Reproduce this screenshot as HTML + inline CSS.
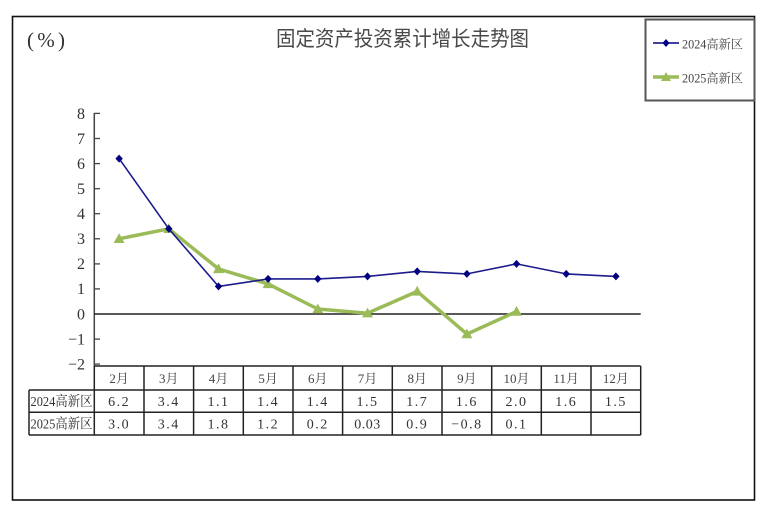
<!DOCTYPE html>
<html><head><meta charset="utf-8"><style>
html,body{margin:0;padding:0;background:#fff;}
svg{display:block;}
</style></head><body>
<svg width="772" height="512" viewBox="0 0 772 512" xmlns="http://www.w3.org/2000/svg">
<rect x="0" y="0" width="772" height="512" fill="#fff"/>
<!-- outer frame -->
<rect x="12.5" y="16.5" width="742" height="483.5" fill="none" stroke="#111" stroke-width="1.6"/>
<!-- (%) -->
<text x="27" y="47" font-family="Liberation Serif, Noto Serif CJK SC, serif" font-size="21" fill="#333" textLength="38" lengthAdjust="spacing">(%)</text>
<!-- title -->
<text x="276" y="46" font-family="Liberation Sans, Noto Sans CJK SC, sans-serif" font-size="21" fill="#4a4a4a" textLength="253" lengthAdjust="spacingAndGlyphs">固定资产投资累计增长走势图</text>
<!-- legend -->
<rect x="645.5" y="19.5" width="109" height="81" fill="#fff" stroke="#555" stroke-width="2"/>
<line x1="653" y1="43" x2="679" y2="43" stroke="#000080" stroke-width="1.6"/>
<polygon points="666,39 669.5,43 666,47 662.5,43" fill="#000080"/>
<text x="682" y="48.5" font-family="Liberation Serif, Noto Serif CJK SC, serif" font-size="12.5" fill="#444" textLength="61" lengthAdjust="spacingAndGlyphs">2024高新区</text>
<line x1="653" y1="77" x2="679" y2="77" stroke="#9bbb59" stroke-width="3.5"/>
<polygon points="666,72 671,81 661,81" fill="#9bbb59"/>
<text x="682" y="82.5" font-family="Liberation Serif, Noto Serif CJK SC, serif" font-size="12.5" fill="#444" textLength="61" lengthAdjust="spacingAndGlyphs">2025高新区</text>

<!-- y axis -->
<line x1="94.3" y1="113" x2="94.3" y2="366" stroke="#444" stroke-width="1.5"/>
<g stroke="#444" stroke-width="1.3">
<line x1="94" y1="113.4" x2="100" y2="113.4"/>
<line x1="94" y1="138.5" x2="100" y2="138.5"/>
<line x1="94" y1="163.6" x2="100" y2="163.6"/>
<line x1="94" y1="188.7" x2="100" y2="188.7"/>
<line x1="94" y1="213.7" x2="100" y2="213.7"/>
<line x1="94" y1="238.8" x2="100" y2="238.8"/>
<line x1="94" y1="263.9" x2="100" y2="263.9"/>
<line x1="94" y1="288.9" x2="100" y2="288.9"/>
<line x1="94" y1="339.1" x2="100" y2="339.1"/>
<line x1="94" y1="364.1" x2="100" y2="364.1"/>
</g>
<g font-family="Liberation Serif, serif" font-size="16" fill="#333" text-anchor="end">
<text x="85" y="119">8</text>
<text x="85" y="144">7</text>
<text x="85" y="169">6</text>
<text x="85" y="194">5</text>
<text x="85" y="219">4</text>
<text x="85" y="244">3</text>
<text x="85" y="269">2</text>
<text x="85" y="294">1</text>
<text x="85" y="319.5">0</text>
<text x="85" y="344.5">−1</text>
<text x="85" y="369.5">−2</text>
</g>
<!-- zero line -->
<line x1="94" y1="314" x2="640.7" y2="314" stroke="#222" stroke-width="1.5"/>

<!-- 2025 series -->
<polyline fill="none" stroke="#9bbb59" stroke-width="3.5" stroke-linejoin="round" points="119.1,238.8 168.8,228.8 218.5,268.9 268.1,283.9 317.8,309.0 367.5,313.2 417.2,291.4 466.9,334.1 516.5,311.5"/>
<g fill="#9bbb59">
<polygon points="119.1,233.3 124.6,243 113.6,243"/>
<polygon points="168.8,223.3 174.3,233 163.3,233"/>
<polygon points="218.5,263.4 224,273.1 213,273.1"/>
<polygon points="268.1,278.4 273.6,288.1 262.6,288.1"/>
<polygon points="317.8,303.5 323.3,313.2 312.3,313.2"/>
<polygon points="367.5,307.7 373,317.4 362,317.4"/>
<polygon points="417.2,285.9 422.7,295.6 411.7,295.6"/>
<polygon points="466.9,328.6 472.4,338.3 461.4,338.3"/>
<polygon points="516.5,306 522,315.7 511,315.7"/>
</g>

<!-- 2024 series -->
<polyline fill="none" stroke="#1c1c8c" stroke-width="1.6" stroke-linejoin="round" points="119.1,158.6 168.8,228.8 218.5,286.4 268.1,278.9 317.8,278.9 367.5,276.4 417.2,271.4 466.9,273.9 516.5,263.9 566.2,273.9 615.9,276.4"/>
<g fill="#000080">
<polygon points="119.1,154.6 122.8,158.6 119.1,162.6 115.4,158.6"/>
<polygon points="168.8,224.8 172.5,228.8 168.8,232.8 165.1,228.8"/>
<polygon points="218.5,282.4 222.2,286.4 218.5,290.4 214.8,286.4"/>
<polygon points="268.1,274.9 271.8,278.9 268.1,282.9 264.4,278.9"/>
<polygon points="317.8,274.9 321.5,278.9 317.8,282.9 314.1,278.9"/>
<polygon points="367.5,272.4 371.2,276.4 367.5,280.4 363.8,276.4"/>
<polygon points="417.2,267.4 420.9,271.4 417.2,275.4 413.5,271.4"/>
<polygon points="466.9,269.9 470.6,273.9 466.9,277.9 463.2,273.9"/>
<polygon points="516.5,259.9 520.2,263.9 516.5,267.9 512.8,263.9"/>
<polygon points="566.2,269.9 569.9,273.9 566.2,277.9 562.5,273.9"/>
<polygon points="615.9,272.4 619.6,276.4 615.9,280.4 612.2,276.4"/>
</g>

<!-- table -->
<g stroke="#222" stroke-width="1.5" fill="none">
<line x1="94.3" y1="366" x2="640.7" y2="366"/>
<line x1="29" y1="390" x2="640.7" y2="390"/>
<line x1="29" y1="412.3" x2="640.7" y2="412.3"/>
<line x1="29" y1="435" x2="640.7" y2="435"/>
<line x1="29" y1="390" x2="29" y2="435"/>
<line x1="94.3" y1="366" x2="94.3" y2="435"/>
<line x1="144" y1="366" x2="144" y2="435"/>
<line x1="193.6" y1="366" x2="193.6" y2="435"/>
<line x1="243.3" y1="366" x2="243.3" y2="435"/>
<line x1="293" y1="366" x2="293" y2="435"/>
<line x1="342.6" y1="366" x2="342.6" y2="435"/>
<line x1="392.3" y1="366" x2="392.3" y2="435"/>
<line x1="442" y1="366" x2="442" y2="435"/>
<line x1="491.7" y1="366" x2="491.7" y2="435"/>
<line x1="541.3" y1="366" x2="541.3" y2="435"/>
<line x1="591" y1="366" x2="591" y2="435"/>
<line x1="640.7" y1="366" x2="640.7" y2="435"/>
</g>
<g font-family="Liberation Serif, Noto Serif CJK SC, serif" font-size="13" fill="#444" text-anchor="middle">
<text x="119.1" y="383">2月</text>
<text x="168.8" y="383">3月</text>
<text x="218.5" y="383">4月</text>
<text x="268.1" y="383">5月</text>
<text x="317.8" y="383">6月</text>
<text x="367.5" y="383">7月</text>
<text x="417.2" y="383">8月</text>
<text x="466.9" y="383">9月</text>
<text x="516.5" y="383">10月</text>
<text x="566.2" y="383">11月</text>
<text x="615.9" y="383">12月</text>
</g>
<g font-family="Liberation Serif, Noto Serif CJK SC, serif" font-size="14" fill="#333">
<text x="30.5" y="406" textLength="62" lengthAdjust="spacingAndGlyphs">2024高新区</text>
<text x="30.5" y="428.5" textLength="62" lengthAdjust="spacingAndGlyphs">2025高新区</text>
</g>
<g font-family="Liberation Serif, serif" font-size="14" fill="#333" text-anchor="middle" letter-spacing="1.5">
<text x="119.1" y="406">6.2</text>
<text x="168.8" y="406">3.4</text>
<text x="218.5" y="406">1.1</text>
<text x="268.1" y="406">1.4</text>
<text x="317.8" y="406">1.4</text>
<text x="367.5" y="406">1.5</text>
<text x="417.2" y="406">1.7</text>
<text x="466.9" y="406">1.6</text>
<text x="516.5" y="406">2.0</text>
<text x="566.2" y="406">1.6</text>
<text x="615.9" y="406">1.5</text>
<text x="119.1" y="428.5">3.0</text>
<text x="168.8" y="428.5">3.4</text>
<text x="218.5" y="428.5">1.8</text>
<text x="268.1" y="428.5">1.2</text>
<text x="317.8" y="428.5">0.2</text>
<text x="367.5" y="428.5" letter-spacing="0.5">0.03</text>
<text x="417.2" y="428.5">0.9</text>
<text x="466.9" y="428.5">−0.8</text>
<text x="516.5" y="428.5">0.1</text>
</g>
</svg>
</body></html>
